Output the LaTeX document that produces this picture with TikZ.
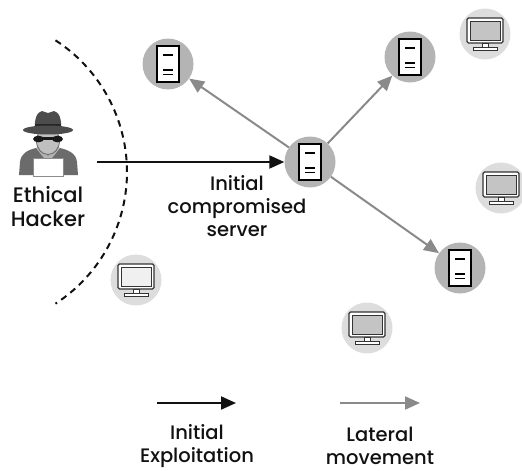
\documentclass[tikz,border=0pt]{standalone}
\usepackage{fontspec}
\setmainfont{Poppins}[UprightFont={* Medium}]
\usetikzlibrary{arrows.meta}
\definecolor{ink}{HTML}{111111}
\definecolor{srvfill}{HTML}{B4B4B4}
\definecolor{pcfill}{HTML}{DDDDDD}
\definecolor{lateral}{HTML}{8A8A8A}
\definecolor{screen}{HTML}{C4C4C4}
\definecolor{screenlight}{HTML}{F0F0F0}
\tikzset{
  txt/.style={text=ink, font=\fontsize{19.5}{23}\selectfont, align=center, inner sep=0pt},
  bigtxt/.style={txt, font=\fontsize{21}{24}\selectfont},
  srvnode/.style={circle, fill=srvfill, minimum size=51pt, inner sep=0pt},
  pcnode/.style={circle, fill=pcfill, minimum size=51pt, inner sep=0pt},
  exploit/.style={draw=ink, line width=2pt, -{Triangle[length=15pt,width=13pt]}},
  lateralarrow/.style={draw=lateral, line width=2pt, -{Triangle[length=15pt,width=13pt]}},
  serverglyph/.pic={
    \draw[line width=2pt, fill=white] (-11,-18) rectangle (11,18);
    \draw[line width=1.6pt] (-5,-9) -- (5,-9) (-5,6) -- (5,6) (-5,10.5) -- (5,10.5);
  },
  pics/monitorglyph/.style={code={
    \draw[draw=black!80, line width=1.2pt, fill=white, rounded corners=1.5pt] (-18,-16) rectangle (18,9);
    \draw[draw=black!80, line width=0.8pt, fill=#1] (-15,-13) rectangle (15,6);
    \draw[draw=black!80, line width=1pt, fill=white] (-3,9) rectangle (3,13);
    \draw[draw=black!80, line width=1pt, fill=white] (-12,13) rectangle (12,16);
  }},
  pics/monitorglyph/.default=screen
}
\begin{document}
\begin{tikzpicture}[x=1pt, y=-1pt]
\useasboundingbox (0,0) rectangle (522,471);

% boundary of the attacker's side
\draw[ink, line width=2pt, dash pattern=on 6.5pt off 5pt] (55.5,40.3) arc[start angle=-57, end angle=57, radius=157];

% ethical hacker figure
\begin{scope}
  % coat
  \fill[black!58] (19,175) -- (20,162) .. controls (21,153) and (28,150) .. (36,148)
     -- (60,148) .. controls (68,150) and (76,153) .. (77,162) -- (78,175) -- cycle;
  % collar
  \fill[black!30] (36,148) -- (48,163) -- (60,148) -- (56,145) -- (48,156) -- (40,145) -- cycle;
  % face
  \fill[black!25, draw=black!60, line width=0.8pt] (48,141) ellipse[x radius=11.5, y radius=13.5];
  % glasses
  \fill[black!90] (37,137) rectangle (59,140);
  \fill[black!90] (38.5,139) ellipse[x radius=5.5, y radius=3.3];
  \fill[black!90] (57.5,139) ellipse[x radius=5.5, y radius=3.3];
  % hat
  \fill[black!70] (35,130) .. controls (34,119) and (37,112) .. (42,111)
     -- (48,113) -- (54,111) .. controls (59,112) and (62,119) .. (61,130) -- cycle;
  \fill[black!85] (35,124) rectangle (61,129);
  \fill[black!70] (48,130) ellipse[x radius=25, y radius=4.5];
  % laptop
  \fill[white, draw=black!45, line width=0.8pt] (33,158) rectangle (63,176);
\end{scope}
\node[bigtxt] (hacker) at (48,207) {Ethical\\Hacker};

% machines
\node[srvnode] (s1) at (168,64) {};
\node[srvnode] (s2) at (310,162) {};
\node[srvnode] (s3) at (410,57) {};
\node[srvnode] (s4) at (460,268) {};
\node[pcnode] (c1) at (485,34) {};
\node[pcnode] (c2) at (501,188) {};
\node[pcnode] (c3) at (136,280) {};
\node[pcnode] (c4) at (367,328) {};

\foreach \n in {s1,s2,s3,s4} \pic at (\n) {serverglyph};
\pic at (c1) {monitorglyph};
\pic at (c2) {monitorglyph};
\pic at (c3) {monitorglyph=screenlight};
\pic at (c4) {monitorglyph};

% initial exploitation
\coordinate (entry) at (97,162);
\draw[exploit] (entry) -- (s2.west);
\node[txt] (label) at (237,206) {Initial\\compromised\\server};

% lateral movement
\draw[lateralarrow] (s2) -- (s1);
\draw[lateralarrow] (s2) -- (s3);
\draw[lateralarrow] (s2) -- (s4);

% legend
\coordinate (la) at (157,403);
\coordinate (lb) at (236,403);
\coordinate (lc) at (340,403);
\coordinate (ld) at (420,403);
\draw[exploit] (la) -- (lb);
\draw[lateralarrow] (lc) -- (ld);
\node[txt] (legexp) at (197,446) {Initial\\Exploitation};
\node[txt] (leglat) at (380,446) {Lateral\\movement};
\end{tikzpicture}
\end{document}
